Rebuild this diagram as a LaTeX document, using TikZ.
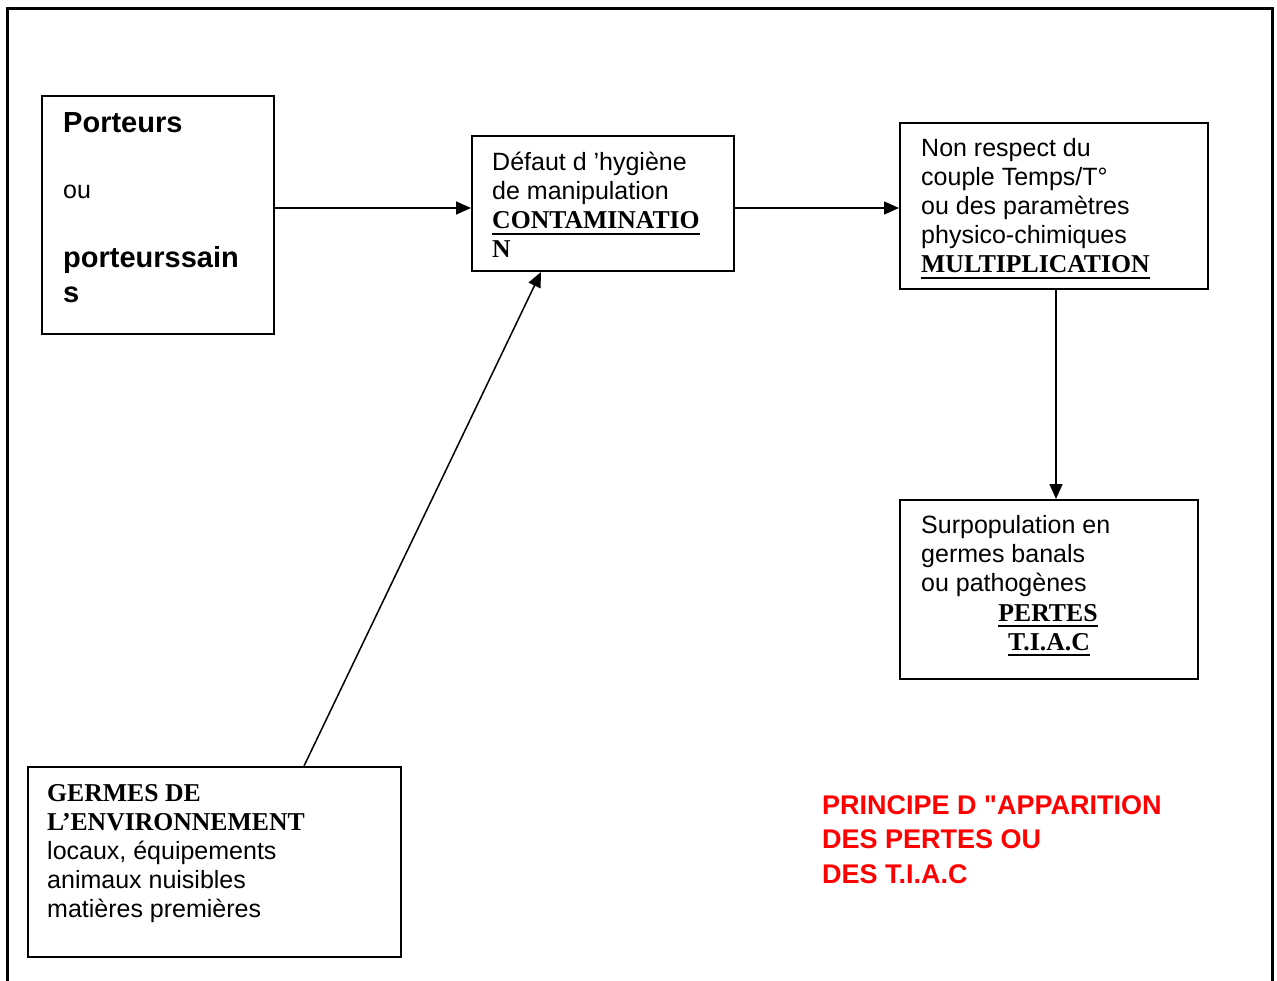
\documentclass[tikz,border=0pt]{standalone}
\usepackage{fontspec}
\setmainfont{Liberation Serif}
\newfontfamily\arialfont{Liberation Sans}
\usetikzlibrary{arrows.meta}

% thick underline for the bold keywords
\newcommand\keyul[1]{\setbox0\hbox{#1}\rlap{\rule[-6.3pt]{\wd0}{2.6pt}}\box0}

\tikzset{
  frame/.style={line width=3pt},
  box/.style={draw, line width=2pt, inner sep=0pt, anchor=north west},
  txt/.style={anchor=base west, inner sep=0pt, font=\arialfont\fontsize{25}{29}\selectfont},
  btxt/.style={anchor=base west, inner sep=0pt, font=\arialfont\bfseries\fontsize{29}{35}\selectfont},
  key/.style={anchor=base west, inner sep=0pt, font=\bfseries\fontsize{25.7}{29}\selectfont},
  title/.style={anchor=base west, inner sep=0pt, text=red, font=\arialfont\bfseries\fontsize{27}{35}\selectfont},
  arr/.style={-{Triangle[length=15pt,width=13pt]}, line width=1.5pt}
}

\begin{document}
\begin{tikzpicture}[x=1pt, y=-1pt]
\useasboundingbox (0,0) rectangle (1277,981);

% page frame
\draw[frame] (7,981) -- (7,9) -- (1272,9) -- (1272,981);

% boxes
\node[box, minimum width=232pt, minimum height=238pt] (porteurs) at (41,95) {};
\node[box, minimum width=262pt, minimum height=135pt] (defaut) at (471,135) {};
\node[box, minimum width=308pt, minimum height=166pt] (multi) at (899,122) {};
\node[box, minimum width=298pt, minimum height=179pt] (surpop) at (899,499) {};
\node[box, minimum width=373pt, minimum height=190pt] (germes) at (27,766) {};

% carriers
\node[btxt] (p1) at (63,133) {Porteurs};
\node[txt]  (p2) at (63,199) {ou};
\node[btxt] (p3) at (63,268) {porteurssain};
\node[btxt] (p4) at (63,303) {s};

% contamination
\node[txt] (d1) at (492,171) {Défaut d ’hygiène};
\node[txt] (d2) at (492,200) {de manipulation};
\node[key] (d3) at (492,229) {\keyul{CONTAMINATIO}};
\node[key] (d4) at (492,258) {N};

% multiplication
\node[txt] (m1) at (921,157) {Non respect du};
\node[txt] (m2) at (921,186) {couple Temps/T°};
\node[txt] (m3) at (921,215) {ou des paramètres};
\node[txt] (m4) at (921,244) {physico-chimiques};
\node[key] (m5) at (921,273) {\keyul{MULTIPLICATION}};

% consequences
\node[txt] (s1) at (921,533) {Surpopulation en};
\node[txt] (s2) at (921,562) {germes banals};
\node[txt] (s3) at (921,591) {ou pathogènes};
\node[key, anchor=base] (s4) at (1048,621) {\keyul{PERTES}};
\node[key, anchor=base] (s5) at (1049,650) {\keyul{T.I.A.C}};

% environment
\node[key] (g1) at (47,801) {GERMES DE};
\node[key] (g2) at (47,830) {L’ENVIRONNEMENT};
\node[txt] (g3) at (47,859) {locaux, équipements};
\node[txt] (g4) at (47,888) {animaux nuisibles};
\node[txt] (g5) at (47,917) {matières premières};

% title
\node[title] (t1) at (822,814) {PRINCIPE D "APPARITION};
\node[title] (t2) at (822,848) {DES PERTES OU};
\node[title] (t3) at (822,883) {DES T.I.A.C};

% connectors
\draw[arr] ([yshift=7pt]porteurs.east) -- ([yshift=7pt]porteurs.east -| defaut.west);
\draw[arr] ([yshift=-4.5pt]defaut.east) -- ([yshift=-4.5pt]defaut.east -| multi.west);
\draw[arr] ([xshift=2pt]multi.south) -- ([xshift=2pt]multi.south |- surpop.north);
\draw[arr] ([xshift=277pt]germes.north west) -- ([xshift=70pt]defaut.south west);
\end{tikzpicture}
\end{document}
